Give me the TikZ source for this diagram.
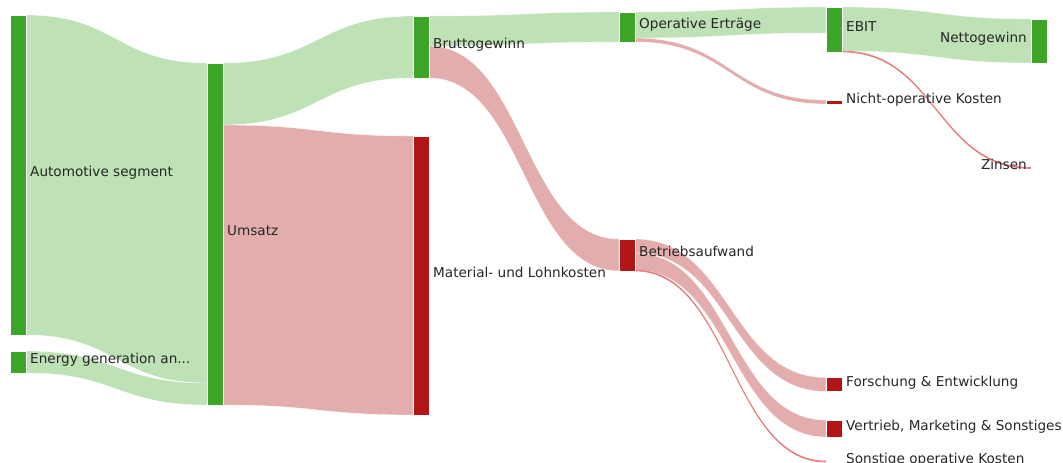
\documentclass[tikz,border=0pt]{standalone}
\usepackage{fontspec}
\setmainfont{DejaVu Sans}
\usepackage{tikz}
\usetikzlibrary{calc,positioning,backgrounds}
\definecolor{bargreen}{RGB}{61,166,41}
\definecolor{barred}{RGB}{178,21,21}
\definecolor{flowgreen}{RGB}{190,225,182}
\definecolor{flowred}{RGB}{227,173,173}
\tikzset{gbar/.style={draw=white, line width=0.5pt, fill=bargreen, minimum width=16pt, inner sep=0pt, outer sep=0pt, anchor=north west}, rbar/.style={gbar, fill=barred}, gflow/.style={fill=flowgreen, draw=white, line width=0.3pt}, rflow/.style={gflow, fill=flowred}, tflow/.style={fill=flowred, draw=red!30!flowred, line width=0.6pt}, lbl/.style={font=\fontsize{13.6}{16}\selectfont, text=black!85, inner sep=0pt, text height=10pt, text depth=7pt}}
% band between two bars: source top, source bottom, target top, target bottom, style
\newcommand{\sflow}[5]{\coordinate (s1) at (#1); \coordinate (s2) at (#2); \coordinate (t1) at (#3); \coordinate (t2) at (#4); \coordinate (sm) at ($(s1)!.5!(t1)$); \path[#5] (s1) .. controls (sm |- s1) and (sm |- t1) .. (t1) -- (t2) .. controls (sm |- t2) and (sm |- s2) .. (s2) -- cycle;}
\begin{document}
\begin{tikzpicture}[x=1pt, y=-1pt, label distance=4pt]
\useasboundingbox (0,0) rectangle (1063,463);
\clip (0,0) rectangle (1063,463);
% bars
\node[gbar, minimum height=320pt, label={[lbl]right:Automotive segment}] (automotive) at (10,15) {};
\node[gbar, minimum height=22pt, label={[lbl]right:Energy generation an...}] (energy) at (10,351) {};
\node[gbar, minimum height=342pt, label={[lbl]right:Umsatz}] (umsatz) at (207,63) {};
\node[gbar, minimum height=62pt, label={[lbl]right:Bruttogewinn}] (brutto) at (413,16) {};
\node[rbar, minimum height=279pt, label={[lbl]right:Material- und Lohnkosten}] (material) at (413,136) {};
\node[gbar, minimum height=30pt, label={[lbl]right:Operative Erträge}] (operativ) at (619,12) {};
\node[rbar, minimum height=32pt, label={[lbl]right:Betriebsaufwand}] (betrieb) at (619,239) {};
\node[gbar, minimum height=45pt, label={[lbl]right:EBIT}] (ebit) at (826,7) {};
\node[rbar, minimum height=4pt, label={[lbl]right:Nicht-operative Kosten}] (nichtop) at (826,100) {};
\node[rbar, minimum height=14pt, label={[lbl]right:Forschung \& Entwicklung}] (forschung) at (826,377.5) {};
\node[rbar, minimum height=17pt, label={[lbl]right:Vertrieb, Marketing \& Sonstiges}] (vertrieb) at (826,420) {};
\node[rbar, minimum height=1pt, label={[lbl]right:Sonstige operative Kosten}] (sonstige) at (826,461) {};
\node[gbar, minimum height=44pt, label={[lbl]left:Nettogewinn}] (netto) at (1031,19) {};
\node[rbar, minimum height=1pt, label={[lbl]left:Zinsen}] (zinsen) at (1031,167.5) {};
% flows
\begin{scope}[on background layer]
\sflow{automotive.north east}{automotive.south east}{umsatz.north west}{$(umsatz.north west)+(0,320)$}{gflow}
\sflow{energy.north east}{energy.south east}{$(umsatz.north west)+(0,320)$}{umsatz.south west}{gflow}
\sflow{umsatz.north east}{$(umsatz.north east)+(0,62)$}{brutto.north west}{brutto.south west}{gflow}
\sflow{$(umsatz.north east)+(0,62)$}{umsatz.south east}{material.north west}{material.south west}{rflow}
\sflow{brutto.north east}{$(brutto.north east)+(0,30)$}{operativ.north west}{operativ.south west}{gflow}
\sflow{$(brutto.north east)+(0,30)$}{brutto.south east}{betrieb.north west}{betrieb.south west}{rflow}
\sflow{operativ.north east}{$(operativ.north east)+(0,26)$}{ebit.north west}{$(ebit.north west)+(0,26)$}{gflow}
\sflow{$(operativ.north east)+(0,26)$}{operativ.south east}{nichtop.north west}{nichtop.south west}{rflow}
\sflow{betrieb.north east}{$(betrieb.north east)+(0,14)$}{forschung.north west}{forschung.south west}{rflow}
\sflow{$(betrieb.north east)+(0,14)$}{$(betrieb.north east)+(0,31)$}{vertrieb.north west}{vertrieb.south west}{rflow}
\sflow{$(betrieb.north east)+(0,31)$}{betrieb.south east}{sonstige.north west}{sonstige.south west}{tflow}
\sflow{ebit.north east}{$(ebit.north east)+(0,44)$}{netto.north west}{netto.south west}{gflow}
\sflow{$(ebit.north east)+(0,44)$}{ebit.south east}{zinsen.north west}{zinsen.south west}{tflow}
\end{scope}
\end{tikzpicture}
\end{document}
